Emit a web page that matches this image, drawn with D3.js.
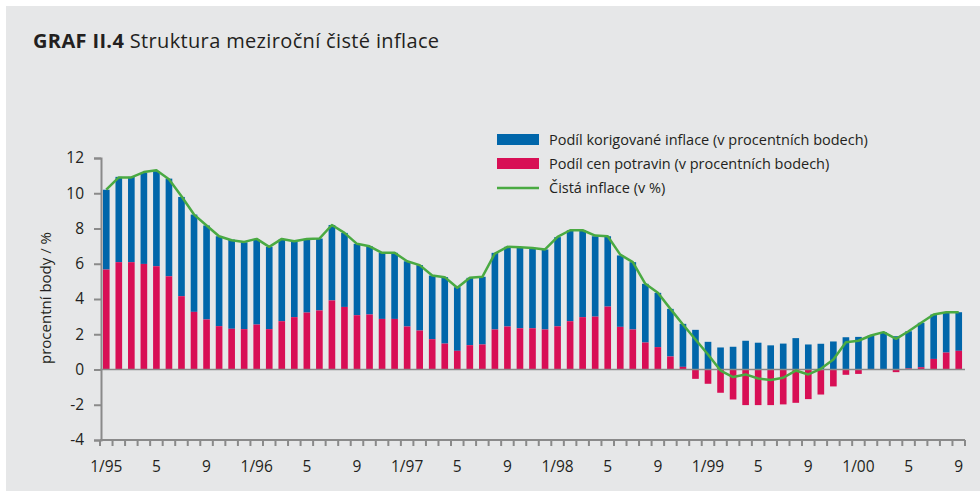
<!DOCTYPE html>
<html>
<head>
<meta charset="utf-8">
<script src="https://cdn.jsdelivr.net/npm/d3@7"></script>
<style>
  body { margin: 0; background: #fff; }
  svg { display: block; font-family: "Open Sans", sans-serif; }
</style>
</head>
<body>
<div id="chart"></div>
<script>
// monthly data 1/95 .. 9/00
var korig = [4.53, 4.84, 4.84, 5.16, 5.39, 5.54, 5.63, 5.52, 5.33, 5.10, 5.06, 4.93,
             4.82, 4.67, 4.63, 4.27, 4.18, 4.08, 4.28, 4.20, 4.05, 3.87, 3.75, 3.75,
             3.70, 3.71, 3.61, 3.77, 3.61, 3.82, 3.84, 4.35, 4.52, 4.56, 4.54, 4.54,
             5.06, 5.16, 4.93, 4.56, 3.99, 4.05, 3.82, 3.33, 3.08, 2.70, 2.44, 2.25,
             1.57, 1.25, 1.29, 1.63, 1.52, 1.37, 1.47, 1.78, 1.42, 1.46, 1.59, 1.83,
             1.85, 1.93, 2.12, 1.89, 2.11, 2.52, 2.52, 2.29, 2.19];
var potraviny = [5.67, 6.09, 6.09, 5.99, 5.86, 5.29, 4.16, 3.27, 2.84, 2.46, 2.31, 2.29,
                 2.55, 2.29, 2.74, 2.97, 3.23, 3.35, 3.92, 3.55, 3.08, 3.12, 2.87, 2.87,
                 2.44, 2.21, 1.72, 1.47, 1.06, 1.38, 1.42, 2.27, 2.44, 2.34, 2.34, 2.27,
                 2.45, 2.74, 2.97, 3.00, 3.57, 2.42, 2.27, 1.53, 1.27, 0.74, 0.15, -0.53,
                 -0.81, -1.32, -1.70, -2.02, -2.02, -2.02, -1.98, -1.89, -1.68, -1.42, -0.96, -0.30,
                 -0.25, 0.00, 0.00, -0.15, 0.06, 0.13, 0.60, 0.96, 1.06];
var cistaInflace = [10.2, 10.9, 10.9, 11.2, 11.3, 10.8, 9.83, 8.79, 8.17, 7.56, 7.33, 7.24,
                    7.41, 6.96, 7.41, 7.28, 7.41, 7.43, 8.2, 7.75, 7.13, 6.99, 6.62, 6.62,
                    6.14, 5.92, 5.33, 5.24, 4.64, 5.2, 5.26, 6.58, 6.96, 6.94, 6.9, 6.81,
                    7.52, 7.9, 7.9, 7.6, 7.56, 6.52, 6.09, 4.86, 4.35, 3.44, 2.55, 1.70,
                    0.85, -0.06, -0.43, -0.28, -0.51, -0.6, -0.47, -0.06, -0.28, 0.04, 0.57, 1.55,
                    1.63, 1.93, 2.12, 1.74, 2.17, 2.65, 3.12, 3.25, 3.25];
var tickLabels = ['1/95', '5', '9', '1/96', '5', '9', '1/97', '5', '9',
                  '1/98', '5', '9', '1/99', '5', '9', '1/00', '5', '9'];
var yTicks = [-4, -2, 0, 2, 4, 6, 8, 10, 12];
var legendNames = ['Podíl korigované inflace (v procentních bodech)',
                   'Podíl cen potravin (v procentních bodech)',
                   'Čistá inflace (v %)'];

var width = 980, height = 493;
var blue = '#0066aa', red = '#d80f55', green = '#4aaa42', axisCol = '#8a8a8a';

var svg = d3.select('#chart').append('svg')
    .attr('width', width).attr('height', height);

svg.append('rect').attr('x', 6).attr('y', 6).attr('width', width - 6).attr('height', 485)
    .attr('fill', '#e6e7e8');

// title
var title = svg.append('text').attr('x', 33).attr('y', 48)
    .attr('font-size', 20).attr('fill', '#231f20').attr('letter-spacing', 0.35);
title.append('tspan').attr('font-weight', 'bold').text('GRAF II.4');
title.append('tspan').text(' Struktura meziroční čisté inflace');

var months = d3.range(korig.length);

var x = d3.scaleBand().domain(months).range([100, 965]).paddingInner(0.47).paddingOuter(0.235);
var y = d3.scaleLinear().domain([-4, 12]).range([440, 158]);

// bars
var g = svg.append('g');
g.selectAll('rect.korig').data(months).enter().append('rect')
    .attr('class', 'korig')
    .attr('x', function(i) { return x(i); })
    .attr('width', x.bandwidth())
    .attr('y', function(i) { return y(korig[i] + Math.max(potraviny[i], 0)); })
    .attr('height', function(i) { return y(Math.max(potraviny[i], 0)) - y(korig[i] + Math.max(potraviny[i], 0)); })
    .attr('fill', blue);

g.selectAll('rect.food').data(months).enter().append('rect')
    .attr('class', 'food')
    .attr('x', function(i) { return x(i); })
    .attr('width', x.bandwidth())
    .attr('y', function(i) { return y(Math.max(potraviny[i], 0)); })
    .attr('height', function(i) { return Math.abs(y(0) - y(potraviny[i])); })
    .attr('fill', red);

// zero line
svg.append('line').attr('x1', 100).attr('x2', 965).attr('y1', y(0)).attr('y2', y(0))
    .attr('stroke', axisCol).attr('stroke-width', 1.5);

// line
var line = d3.line()
    .x(function(d, i) { return x(i) + x.bandwidth() / 2; })
    .y(function(d) { return y(d); });
svg.append('path').datum(cistaInflace)
    .attr('d', line).attr('fill', 'none')
    .attr('stroke', green).attr('stroke-width', 2.5).attr('stroke-linejoin', 'round');

// y axis
var yAxis = svg.append('g').attr('transform', 'translate(101,0)')
    .call(d3.axisLeft(y).tickValues(yTicks).tickSize(7).tickPadding(10).tickFormat(d3.format('d')));
yAxis.select('.domain').attr('stroke', axisCol).attr('stroke-width', 2);
yAxis.selectAll('.tick line').attr('stroke', axisCol).attr('stroke-width', 2);
yAxis.selectAll('.tick text').attr('font-size', 15.5).attr('fill', '#231f20')
    .attr('font-family', '"Open Sans", sans-serif')
    .text(function(d) { return d < 0 ? '-' + Math.abs(d) : d; });

svg.append('text')
    .attr('transform', 'translate(51,298) rotate(-90)')
    .attr('text-anchor', 'middle').attr('font-size', 15).attr('fill', '#231f20')
    .text('procentní body / %');

// x axis
var step = x.step();
var bounds = d3.range(korig.length + 1).map(function(i) { return 100 + i * step; });
svg.append('line').attr('x1', 100).attr('x2', 965).attr('y1', 440).attr('y2', 440)
    .attr('stroke', axisCol).attr('stroke-width', 2);
svg.selectAll('line.xtick').data(bounds).enter().append('line')
    .attr('class', 'xtick')
    .attr('x1', function(d) { return d; }).attr('x2', function(d) { return d; })
    .attr('y1', 440).attr('y2', 446)
    .attr('stroke', axisCol).attr('stroke-width', 2);
svg.selectAll('text.xlab').data(tickLabels).enter().append('text')
    .attr('class', 'xlab')
    .attr('x', function(d, k) { return x(k * 4) + x.bandwidth() / 2; })
    .attr('y', 472)
    .attr('text-anchor', 'middle').attr('font-size', 15.5).attr('fill', '#231f20')
    .text(function(d) { return d; });

// legend
var leg = svg.append('g');
var legY = [140, 164, 188];
leg.append('rect').attr('x', 497).attr('y', legY[0] - 6).attr('width', 42).attr('height', 11).attr('fill', blue);
leg.append('rect').attr('x', 497).attr('y', legY[1] - 6).attr('width', 42).attr('height', 11).attr('fill', red);
leg.append('line').attr('x1', 497).attr('x2', 539).attr('y1', legY[2]).attr('y2', legY[2])
    .attr('stroke', green).attr('stroke-width', 2.5);
leg.selectAll('text').data(legendNames).enter().append('text')
    .attr('x', 549).attr('y', function(d, i) { return legY[i] + 5; })
    .attr('font-size', 14.5).attr('fill', '#231f20')
    .text(function(d) { return d; });
</script>
</body>
</html>
